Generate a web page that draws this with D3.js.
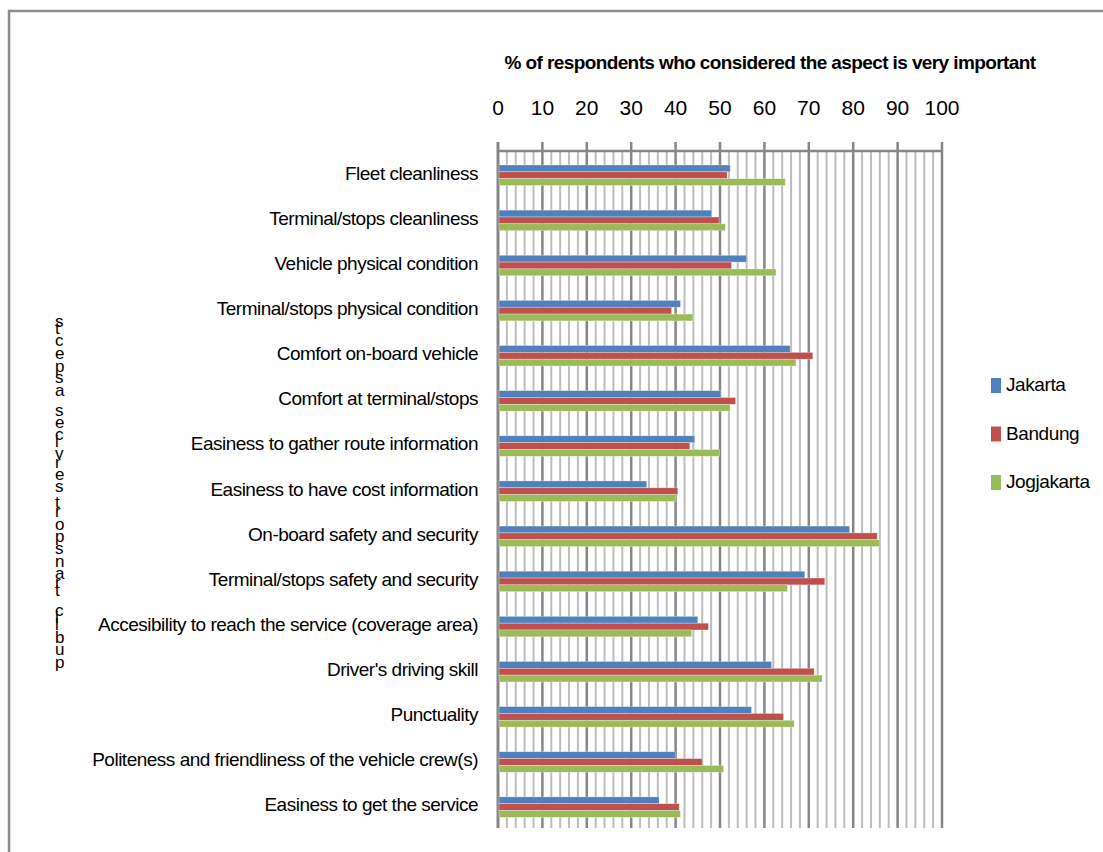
<!DOCTYPE html>
<html>
<head>
<meta charset="utf-8">
<script src="https://cdn.jsdelivr.net/npm/d3@7"></script>
<style>
  body { margin: 0; background: #fff; }
  text { font-family: "Liberation Sans Narrow", "Liberation Sans", sans-serif; fill: #000; }
</style>
</head>
<body>
<div id="main"></div>
<script>
const aspects = [
  "Fleet cleanliness",
  "Terminal/stops cleanliness",
  "Vehicle physical condition",
  "Terminal/stops physical condition",
  "Comfort on-board vehicle",
  "Comfort at terminal/stops",
  "Easiness to gather route information",
  "Easiness to have cost information",
  "On-board safety and security",
  "Terminal/stops safety and security",
  "Accesibility to reach the service (coverage area)",
  "Driver's driving skill",
  "Punctuality",
  "Politeness and friendliness of the vehicle crew(s)",
  "Easiness to get the service"
];
const cities = ["Jakarta", "Bandung", "Jogjakarta"];
const jakarta    = [52.3, 48.1, 56.0, 41.1, 65.8, 50.2, 44.3, 33.5, 79.2, 69.1, 45.0, 61.6, 57.1, 39.9, 36.3];
const bandung    = [51.6, 49.8, 52.6, 39.1, 70.9, 53.5, 43.2, 40.5, 85.4, 73.6, 47.4, 71.2, 64.3, 46.0, 40.8];
const jogjakarta = [64.7, 51.2, 62.6, 43.9, 67.1, 52.3, 49.9, 40.1, 86.0, 65.2, 43.6, 73.0, 66.7, 50.8, 41.1];
const xTicks = [0, 10, 20, 30, 40, 50, 60, 70, 80, 90, 100];
const title = "% of respondents who considered the aspect is very important";
const yTitle = "public transport services aspects";

const colors = ["#4F81BD", "#C0504D", "#9BBB59"];
const series = [jakarta, bandung, jogjakarta];

const width = 1103, height = 852;
const svg = d3.select("#main").append("svg")
  .attr("width", width).attr("height", height);

// outer frame
svg.append("rect")
  .attr("x", 9).attr("y", 11)
  .attr("width", 1110).attr("height", 900)
  .attr("fill", "none").attr("stroke", "#8c8c8c").attr("stroke-width", 2.5);

const x = d3.scaleLinear().domain([0, 100]).range([498, 942]);
const y = d3.scaleBand().domain(aspects).range([151, 828]);
const inner = d3.scaleBand().domain(d3.range(3)).range([0, 20.5]);

// minor gridlines every 2
const grid = svg.append("g");
grid.selectAll("line.minor")
  .data(d3.range(2, 100, 2).filter(v => v % 10 !== 0))
  .enter().append("line")
  .attr("class", "minor")
  .attr("x1", d => x(d)).attr("x2", d => x(d))
  .attr("y1", 151).attr("y2", 828)
  .attr("stroke", "#bdbdbd").attr("stroke-width", 2);

// major gridlines
grid.selectAll("line.major")
  .data(xTicks)
  .enter().append("line")
  .attr("class", "major")
  .attr("x1", d => x(d)).attr("x2", d => x(d))
  .attr("y1", 142).attr("y2", 828)
  .attr("stroke", "#868686").attr("stroke-width", d => d === 0 ? 3 : 2.5);

// axis line at top
svg.append("line")
  .attr("x1", x(0)).attr("x2", x(100))
  .attr("y1", 151).attr("y2", 151)
  .attr("stroke", "#868686").attr("stroke-width", 2.5);

// tick labels
svg.append("g").selectAll("text")
  .data(xTicks)
  .enter().append("text")
  .attr("x", d => x(d)).attr("y", 115)
  .attr("text-anchor", "middle")
  .style("font-size", "21px")
  .text(d => d);

// title
svg.append("text")
  .attr("x", 770).attr("y", 69)
  .attr("text-anchor", "middle")
  .style("font-size", "19px").style("font-weight", "bold")
  .style("letter-spacing", "-0.6px")
  .text(title);

// bars
series.forEach((vals, s) => {
  svg.append("g").selectAll("rect")
    .data(vals)
    .enter().append("rect")
    .attr("x", x(0) + 1)
    .attr("y", (d, i) => y(aspects[i]) + 14 + inner(s))
    .attr("width", d => x(d) - x(0) - 1)
    .attr("height", inner.bandwidth())
    .attr("fill", colors[s])
    .attr("stroke", "#ffffff").attr("stroke-opacity", 0.5).attr("stroke-width", 0.6);
});

// category labels
svg.append("g").selectAll("text")
  .data(aspects)
  .enter().append("text")
  .attr("x", 478)
  .attr("y", d => y(d) + y.bandwidth() / 2 + 1)
  .attr("text-anchor", "end")
  .attr("dominant-baseline", "middle")
  .style("font-size", "19px")
  .style("letter-spacing", "-0.5px")
  .text(d => d);

// y title: rotated text whose glyphs are turned back upright
svg.append("text")
  .attr("transform", "translate(55,668) rotate(-90)")
  .attr("rotate", 90)
  .attr("textLength", 350)
  .attr("lengthAdjust", "spacing")
  .style("font-size", "17px")
  .text(yTitle);

// legend
const legend = svg.append("g");
cities.forEach((c, i) => {
  const ly = 385 + i * 48.5;
  legend.append("rect")
    .attr("x", 991).attr("y", ly - 7)
    .attr("width", 10).attr("height", 15)
    .attr("fill", colors[i]);
  legend.append("text")
    .attr("x", 1006).attr("y", ly + 1)
    .attr("dominant-baseline", "middle")
    .style("font-size", "19px")
    .style("letter-spacing", "-0.4px")
    .text(c);
});
</script>
</body>
</html>
